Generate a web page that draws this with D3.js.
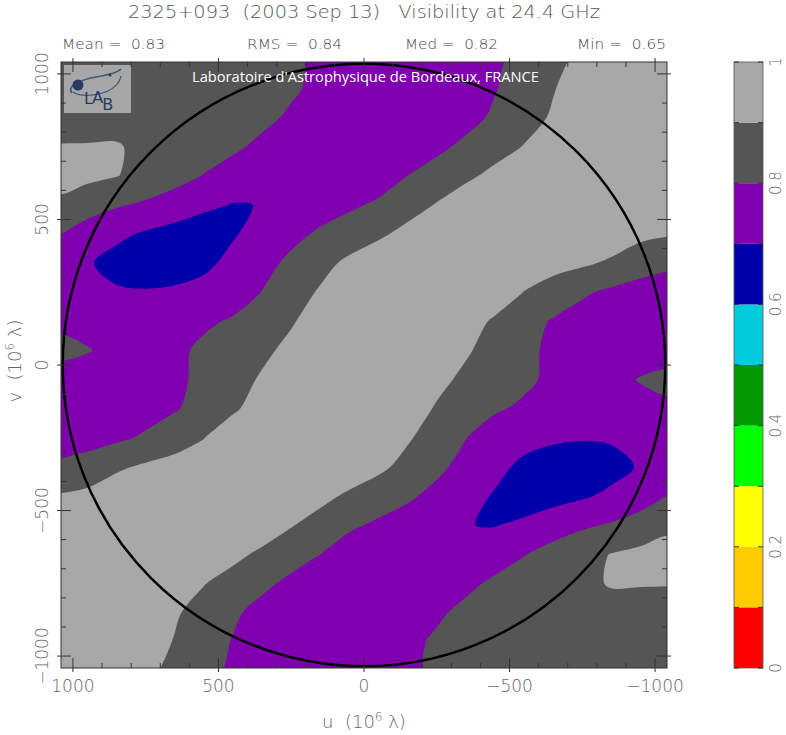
<!DOCTYPE html>
<html><head><meta charset="utf-8">
<script src="https://cdn.jsdelivr.net/npm/d3@7"></script>
<style>body{margin:0;background:#fff} svg{display:block} text{white-space:pre}</style>
</head><body><svg id="c" width="786" height="735"></svg>
<script>
// ---------------- data ----------------
const titleText = "2325+093  (2003 Sep 13)   Visibility at 24.4 GHz";
const statLabels = ["Mean =  0.83", "RMS =  0.84", "Med =  0.82", "Min =  0.65"];
const uSamples = [1050,950,850,750,650,550,450,350,250,150,50,-50,-150,-250,-350,-450,-550,-650,-750,-850,-950,-1050];
const vSamples = [1050,950,850,750,650,550,450,350,250,150,50,-50,-150,-250,-350,-450,-550,-650,-750,-850,-950,-1050];
// visibility amplitude, rows = v (top to bottom), cols = u (left to right)
const visibility = [
 [0.86,0.86,0.86,0.86,0.86,0.86,0.86,0.86,0.822,0.772,0.723,0.72,0.72,0.72,0.734,0.783,0.829,0.874,0.921,0.97,0.99,0.99],
 [0.86,0.86,0.86,0.86,0.86,0.86,0.86,0.86,0.818,0.769,0.72,0.72,0.72,0.72,0.745,0.795,0.845,0.895,0.945,0.98,0.99,0.99],
 [0.872,0.872,0.862,0.865,0.86,0.86,0.86,0.83,0.781,0.731,0.72,0.72,0.72,0.72,0.768,0.816,0.863,0.911,0.96,0.99,0.99,0.99],
 [0.903,0.904,0.908,0.876,0.86,0.86,0.822,0.772,0.723,0.72,0.72,0.72,0.72,0.778,0.822,0.862,0.904,0.953,0.99,0.99,0.99,0.99],
 [0.935,0.925,0.903,0.872,0.844,0.795,0.745,0.725,0.72,0.72,0.72,0.752,0.801,0.841,0.881,0.925,0.975,0.99,0.99,0.99,0.99,0.99],
 [0.879,0.834,0.809,0.785,0.744,0.715,0.697,0.7015,0.733,0.758,0.784,0.816,0.861,0.906,0.955,0.99,0.99,0.99,0.99,0.98,0.97,0.96],
 [0.805,0.764,0.721,0.688,0.672,0.66,0.692,0.734,0.775,0.814,0.849,0.884,0.927,0.97,0.99,0.99,0.99,0.99,0.99,0.96,0.92,0.907],
 [0.75,0.71,0.665,0.65,0.655,0.68,0.725,0.771,0.82,0.871,0.92,0.96,0.99,0.99,0.99,0.99,0.95,0.93,0.915,0.884,0.849,0.82],
 [0.735,0.73,0.712,0.707,0.714,0.73,0.756,0.802,0.857,0.91,0.95,0.99,1.0,1.0,0.99,0.95,0.898,0.862,0.812,0.783,0.756,0.74],
 [0.775,0.765,0.745,0.74,0.753,0.785,0.81,0.851,0.892,0.94,0.98,1.0,1.0,0.98,0.937,0.888,0.84,0.791,0.765,0.745,0.74,0.745],
 [0.83,0.806,0.77,0.76,0.78,0.818,0.85,0.882,0.922,0.96,0.99,1.0,0.99,0.96,0.91,0.866,0.823,0.78,0.76,0.75,0.75,0.745],
 [0.745,0.75,0.75,0.76,0.78,0.823,0.866,0.91,0.96,0.99,1.0,0.99,0.96,0.922,0.882,0.85,0.818,0.78,0.76,0.77,0.806,0.83],
 [0.745,0.74,0.745,0.765,0.791,0.84,0.888,0.937,0.98,1.0,1.0,0.98,0.94,0.892,0.851,0.81,0.785,0.753,0.74,0.745,0.765,0.775],
 [0.74,0.756,0.783,0.812,0.862,0.898,0.95,0.99,1.0,1.0,0.99,0.95,0.91,0.857,0.802,0.756,0.73,0.714,0.707,0.712,0.73,0.735],
 [0.82,0.849,0.884,0.915,0.93,0.95,0.99,0.99,0.99,0.99,0.96,0.92,0.871,0.82,0.771,0.725,0.68,0.655,0.65,0.665,0.71,0.75],
 [0.907,0.92,0.96,0.99,0.99,0.99,0.99,0.99,0.97,0.927,0.884,0.849,0.814,0.775,0.734,0.692,0.66,0.672,0.688,0.721,0.764,0.805],
 [0.96,0.97,0.98,0.99,0.99,0.99,0.99,0.955,0.906,0.861,0.816,0.784,0.758,0.733,0.7015,0.697,0.715,0.744,0.785,0.809,0.834,0.879],
 [0.99,0.99,0.99,0.99,0.99,0.975,0.925,0.881,0.841,0.801,0.752,0.72,0.72,0.72,0.725,0.745,0.795,0.844,0.872,0.903,0.925,0.935],
 [0.99,0.99,0.99,0.99,0.953,0.904,0.862,0.822,0.778,0.72,0.72,0.72,0.72,0.723,0.772,0.822,0.86,0.86,0.876,0.908,0.904,0.903],
 [0.99,0.99,0.99,0.96,0.911,0.863,0.816,0.768,0.72,0.72,0.72,0.72,0.731,0.781,0.83,0.86,0.86,0.86,0.865,0.862,0.872,0.872],
 [0.99,0.99,0.98,0.945,0.895,0.845,0.795,0.745,0.72,0.72,0.72,0.72,0.769,0.818,0.86,0.86,0.86,0.86,0.86,0.86,0.86,0.86],
 [0.99,0.99,0.97,0.921,0.874,0.829,0.783,0.734,0.72,0.72,0.72,0.723,0.772,0.822,0.86,0.86,0.86,0.86,0.86,0.86,0.86,0.86]
];
const levels = [0,0.1,0.2,0.3,0.4,0.5,0.6,0.7,0.8,0.9,1.0];
const levelColors = ["#ff0000","#ffcc00","#ffff00","#00ff00","#009900","#00ccdd","#0000aa","#8000b0","#555555","#a8a8a8"];
const majorTicks = [1000,500,0,-500,-1000];
const majorTickLabels = ["1000","500","0","\u2212500","\u22121000"];
const minorTicks = [1000,900,800,700,600,500,400,300,200,100,0,-100,-200,-300,-400,-500,-600,-700,-800,-900,-1000];
const cbTicks = [0,0.2,0.4,0.6,0.8,1];
const cbTickLabels = ["0","0.2","0.4","0.6","0.8","1"];
const circleRadius = 1035;

// ---------------- layout ----------------
const svg = d3.select("#c");
const L = 61, R = 667, T = 62, B = 668;
const x = d3.scaleLinear().domain([1041, -1041]).range([L, R]);
const y = d3.scaleLinear().domain([1041, -1041]).range([T, B]);
const font = "'DejaVu Sans', sans-serif";
const txtCol = "#666";

svg.append("defs").append("clipPath").attr("id","clip")
  .append("rect").attr("x",L).attr("y",T).attr("width",R-L).attr("height",B-T);

// ---------------- contours ----------------
const n = uSamples.length, m = vSamples.length;
const du = uSamples[1]-uSamples[0], dv = vSamples[1]-vSamples[0];
const flat = visibility.flat();
const bands = d3.contours().size([n, m]).thresholds(levels.slice(1, -1))(flat);
const line = d3.line().curve(d3.curveCatmullRomClosed.alpha(0.5));
function toPath(mp){
  let s = "";
  for (const poly of mp.coordinates) for (const ring of poly){
    const pts = ring.map(([X,Y]) => [x(uSamples[0] + (X-0.5)*du), y(vSamples[0] + (Y-0.5)*dv)]);
    const a = pts[0], b = pts[pts.length-1];
    if (pts.length>1 && a[0]===b[0] && a[1]===b[1]) pts.pop();
    s += line(pts);
  }
  return s;
}
const plot = svg.append("g").attr("clip-path","url(#clip)");
plot.append("rect").attr("x",L).attr("y",T).attr("width",R-L).attr("height",B-T).attr("fill",levelColors[0]);
bands.forEach(c => {
  const idx = levels.indexOf(c.value);
  plot.append("path").attr("d", toPath(c)).attr("fill", levelColors[idx]).attr("fill-rule","evenodd");
});

// circle
plot.append("circle").attr("cx",x(0)).attr("cy",y(0)).attr("r", x(0)-x(circleRadius))
  .attr("fill","none").attr("stroke","#000").attr("stroke-width",2.5);

// logo
const logo = svg.append("g");
logo.append("rect").attr("x",64).attr("y",65).attr("width",67).attr("height",48).attr("fill","#a7a7a7");
logo.append("path").attr("d","M72,93 C66,86 80,80 96,77 C108,75 118,72 121,69").attr("fill","none").attr("stroke","#3b5870").attr("stroke-width",1.6);
logo.append("path").attr("d","M73,92 C80,97 96,96 108,91 C116,87 120,82 121,76").attr("fill","none").attr("stroke","#3b5870").attr("stroke-width",1.2);
logo.append("circle").attr("cx",78).attr("cy",85).attr("r",5.5).attr("fill","#283a64");
logo.append("circle").attr("cx",110).attr("cy",75).attr("r",1.5).attr("fill","#283a64");
const lab = logo.append("text").attr("x",84).attr("y",104).attr("font-family",font).attr("font-size",16).attr("fill","#283a64");
lab.append("tspan").text("L");
lab.append("tspan").attr("dx",-1).attr("dy",-1).text("A");
lab.append("tspan").attr("dx",-1).attr("dy",7).text("B");
svg.append("text").attr("x",192).attr("y",82).attr("font-family","'Open Sans', sans-serif").attr("font-size",14)
  .attr("fill","#fff").attr("textLength",347).attr("lengthAdjust","spacingAndGlyphs")
  .text("Laboratoire d'Astrophysique de Bordeaux, FRANCE");

// frame + ticks
const ax = svg.append("g").attr("stroke","#333").attr("stroke-width",1);
ax.append("rect").attr("x",L).attr("y",T).attr("width",R-L).attr("height",B-T).attr("fill","none");
minorTicks.forEach(t => {
  const major = majorTicks.includes(t);
  const inn = major ? 10 : 5, out = major ? 4 : 0;
  ax.append("line").attr("x1",x(t)).attr("x2",x(t)).attr("y1",B+out).attr("y2",B-inn);
  ax.append("line").attr("x1",x(t)).attr("x2",x(t)).attr("y1",T-out).attr("y2",T+inn);
  ax.append("line").attr("y1",y(t)).attr("y2",y(t)).attr("x1",L-out).attr("x2",L+inn);
  ax.append("line").attr("y1",y(t)).attr("y2",y(t)).attr("x1",R+out).attr("x2",R-inn);
});

// tick labels
majorTicks.forEach((t,i) => {
  svg.append("text").attr("x",x(t)).attr("y",692).attr("text-anchor","middle")
    .attr("font-family",font).attr("font-weight",200).attr("font-size",17).attr("fill",txtCol).text(majorTickLabels[i]);
  svg.append("text").attr("transform",`translate(48,${y(t)}) rotate(-90)`).attr("text-anchor","middle")
    .attr("font-family",font).attr("font-weight",200).attr("font-size",17).attr("fill",txtCol).text(majorTickLabels[i]);
});

// axis titles
const ut = svg.append("text").attr("x",364).attr("y",728).attr("text-anchor","middle")
  .attr("font-family",font).attr("font-weight",200).attr("font-size",18).attr("fill",txtCol);
ut.append("tspan").text("u  (10");
ut.append("tspan").attr("dy",-7).attr("font-size",12).text("6");
ut.append("tspan").attr("dy",7).text(" \u03bb)");
const vt = svg.append("text").attr("transform","translate(21,361) rotate(-90)").attr("text-anchor","middle")
  .attr("font-family",font).attr("font-weight",200).attr("font-size",18).attr("fill",txtCol);
vt.append("tspan").text("v  (10");
vt.append("tspan").attr("dy",-7).attr("font-size",12).text("6");
vt.append("tspan").attr("dy",7).text(" \u03bb)");

// title + stats
svg.append("text").attr("x",128).attr("y",18).attr("font-family",font).attr("font-weight",200)
  .attr("font-size",18).attr("fill","#555").attr("textLength",472).attr("lengthAdjust","spacingAndGlyphs").text(titleText);
const statX = [62,247,405,577], statW = [103,95,93,89];
statLabels.forEach((s,i) => {
  svg.append("text").attr("x",statX[i]).attr("y",49).attr("font-family",font).attr("font-weight",200)
    .attr("font-size",14).attr("fill","#444").attr("textLength",statW[i]).attr("lengthAdjust","spacingAndGlyphs").text(s);
});

// colour bar
const cb = d3.scaleLinear().domain([0,1]).range([668,62]);
const cbx = 734, cbw = 29;
levelColors.forEach((c,i) => {
  svg.append("rect").attr("x",cbx).attr("y",cb(levels[i+1])).attr("width",cbw)
    .attr("height",cb(levels[i])-cb(levels[i+1])).attr("fill",c);
});
svg.append("rect").attr("x",cbx).attr("y",cb(1)).attr("width",cbw).attr("height",cb(0)-cb(1))
  .attr("fill","none").attr("stroke","#555").attr("stroke-width",0.8);
levels.forEach(v => {
  svg.append("line").attr("x1",cbx).attr("x2",cbx+5).attr("y1",cb(v)).attr("y2",cb(v)).attr("stroke","#333");
  svg.append("line").attr("x1",cbx+cbw-5).attr("x2",cbx+cbw).attr("y1",cb(v)).attr("y2",cb(v)).attr("stroke","#333");
});
cbTicks.forEach((v,i) => {
  svg.append("text").attr("transform",`translate(781,${cb(v)}) rotate(-90)`).attr("text-anchor","middle")
    .attr("font-family",font).attr("font-weight",200).attr("font-size",15).attr("fill",txtCol).text(cbTickLabels[i]);
});
</script></body></html>
